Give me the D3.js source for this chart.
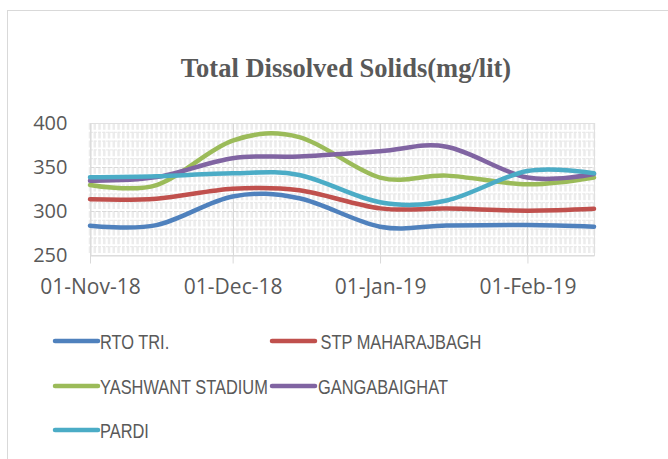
<!DOCTYPE html>
<html>
<head>
<meta charset="utf-8">
<script src="https://cdn.jsdelivr.net/npm/d3@7"></script>
<style>
  body { margin: 0; background: #fff; }
  svg { display: block; }
</style>
</head>
<body>
<div id="chart"></div>
<script>
// fortnightly sample dates and readings (mg/lit)
const dates = ["2018-11-01", "2018-11-15", "2018-12-01", "2018-12-15", "2019-01-01", "2019-01-15", "2019-02-01", "2019-02-15"];
const rtoTri = [283.3, 284, 316.5, 314.5, 282.2, 283.5, 284, 282.2];
const stpMaharajbagh = [313.3, 314, 325.3, 323.5, 303, 302.7, 300.4, 302.5];
const yashwantStadium = [329.5, 329.5, 380, 384, 338, 340.2, 330.3, 338];
const gangabaighat = [334.5, 338.5, 360, 362, 368, 373, 338, 342];
const pardi = [338.3, 339.5, 342.8, 341, 310, 312, 345.5, 342.8];

const seriesNames = ["RTO TRI.", " STP MAHARAJBAGH", "YASHWANT STADIUM", "GANGABAIGHAT", "PARDI"];
const seriesColors = ["#4F81BD", "#C0504D", "#9BBB59", "#8064A2", "#4BACC6"];
const seriesValues = [rtoTri, stpMaharajbagh, yashwantStadium, gangabaighat, pardi];

const yTicks = [250, 300, 350, 400];
const xTickDates = ["2018-11-01", "2018-12-01", "2019-01-01", "2019-02-01"];

const width = 668, height = 459;
const plot = { left: 90, top: 123, right: 594, bottom: 255 };

const parse = d3.utcParse("%Y-%m-%d");
const fmt = d3.utcFormat("%d-%b-%y");

const svg = d3.select("#chart").append("svg")
  .attr("width", width)
  .attr("height", height);

// chart frame
svg.append("rect")
  .attr("x", 7.5).attr("y", 10.5)
  .attr("width", 700).attr("height", 500)
  .attr("fill", "#fff")
  .attr("stroke", "#d9d9d9");

svg.append("text")
  .attr("x", 346).attr("y", 77)
  .attr("text-anchor", "middle")
  .attr("font-family", "'Liberation Serif', 'Times New Roman', serif")
  .attr("font-weight", "bold")
  .attr("font-size", 26.5)
  .attr("fill", "#595959")
  .text("Total Dissolved Solids(mg/lit)");

const x = d3.scaleUtc()
  .domain([parse("2018-11-01"), parse("2019-02-15")])
  .range([plot.left, plot.right]);

const y = d3.scaleLinear()
  .domain([250, 400])
  .range([plot.bottom, plot.top]);

const grid = svg.append("g");

// minor vertical grid, one per day
const days = d3.utcDay.range(parse("2018-11-01"), parse("2019-02-16"));
grid.selectAll("line.vminor")
  .data(days)
  .join("line")
  .attr("class", "vminor")
  .attr("x1", d => x(d)).attr("x2", d => x(d))
  .attr("y1", plot.top).attr("y2", plot.bottom)
  .attr("stroke", "#ececec")
  .attr("stroke-width", 2.5)
  .attr("stroke-dasharray", "6.8,2");

// minor horizontal grid
grid.selectAll("line.hminor")
  .data(d3.range(250, 401, 10))
  .join("line")
  .attr("class", "hminor")
  .attr("x1", plot.left).attr("x2", plot.right)
  .attr("y1", d => y(d) + 0.5).attr("y2", d => y(d) + 0.5)
  .attr("stroke", "#e8e8e8")
  .attr("stroke-dasharray", "3,1");

// major horizontal grid
grid.selectAll("line.hmajor")
  .data(yTicks)
  .join("line")
  .attr("class", "hmajor")
  .attr("x1", plot.left).attr("x2", plot.right)
  .attr("y1", d => y(d) + 0.5).attr("y2", d => y(d) + 0.5)
  .attr("stroke", "#d9d9d9")
  .attr("stroke-dasharray", "4,2");

// major vertical grid at months
grid.selectAll("line.vmajor")
  .data(xTickDates.map(parse))
  .join("line")
  .attr("class", "vmajor")
  .attr("x1", d => Math.round(x(d)) + 0.5).attr("x2", d => Math.round(x(d)) + 0.5)
  .attr("y1", plot.top).attr("y2", plot.bottom)
  .attr("stroke", "#d9d9d9");

// plot border
svg.append("rect")
  .attr("x", plot.left + 0.5).attr("y", plot.top + 0.5)
  .attr("width", plot.right - plot.left).attr("height", plot.bottom - plot.top)
  .attr("fill", "none")
  .attr("stroke", "#e0e0e0");

// x axis
const xAxis = svg.append("g")
  .attr("transform", `translate(0,${plot.bottom + 0.5})`)
  .call(d3.axisBottom(x)
    .tickValues(xTickDates.map(parse))
    .tickFormat(fmt)
    .tickSize(8)
    .tickPadding(16)
    .tickSizeOuter(0));
xAxis.select(".domain").attr("stroke", "#d9d9d9");
xAxis.selectAll(".tick line").attr("stroke", "#d9d9d9");
xAxis.selectAll(".tick text")
  .attr("font-family", "'Open Sans', sans-serif")
  .attr("font-size", 21)
  .attr("fill", "#595959");

// y axis
const yAxis = svg.append("g")
  .attr("transform", `translate(${plot.left + 0.5},0)`)
  .call(d3.axisLeft(y)
    .tickValues(yTicks)
    .tickSize(0)
    .tickPadding(23));
yAxis.select(".domain").attr("stroke", "#d9d9d9");
yAxis.selectAll(".tick text")
  .attr("font-family", "'Open Sans', sans-serif")
  .attr("font-size", 20)
  .attr("fill", "#595959");

// lines (smoothed like the spreadsheet)
const line = d3.line()
  .x(d => x(d.date))
  .y(d => y(d.value))
  .curve(d3.curveCatmullRom.alpha(0));

seriesValues.forEach((vals, i) => {
  const pts = dates.map((d, j) => ({ date: parse(d), value: vals[j] }));
  svg.append("path")
    .datum(pts)
    .attr("d", line)
    .attr("fill", "none")
    .attr("stroke", seriesColors[i])
    .attr("stroke-width", 4.5)
    .attr("stroke-linecap", "round")
    .attr("stroke-linejoin", "round");
});

// legend
const legendPos = [
  { lx: 55, tx: 100, y: 341 },
  { lx: 272, tx: 316, y: 341 },
  { lx: 55, tx: 100, y: 386 },
  { lx: 272, tx: 318, y: 386 },
  { lx: 55, tx: 100, y: 430 }
];
const legend = svg.append("g");
seriesNames.forEach((name, i) => {
  const p = legendPos[i];
  legend.append("line")
    .attr("x1", p.lx).attr("x2", p.lx + 43)
    .attr("y1", p.y).attr("y2", p.y)
    .attr("stroke", seriesColors[i])
    .attr("stroke-width", 4.5)
    .attr("stroke-linecap", "round");
  legend.append("text")
    .attr("transform", `translate(${p.tx},${p.y + 1}) scale(0.8,1)`)
    .attr("dy", "0.35em")
    .attr("xml:space", "preserve")
    .style("white-space", "pre")
    .attr("font-family", "'Liberation Sans', sans-serif")
    .attr("font-size", 20.5)
    .attr("fill", "#595959")
    .text(name);
});
</script>
</body>
</html>
